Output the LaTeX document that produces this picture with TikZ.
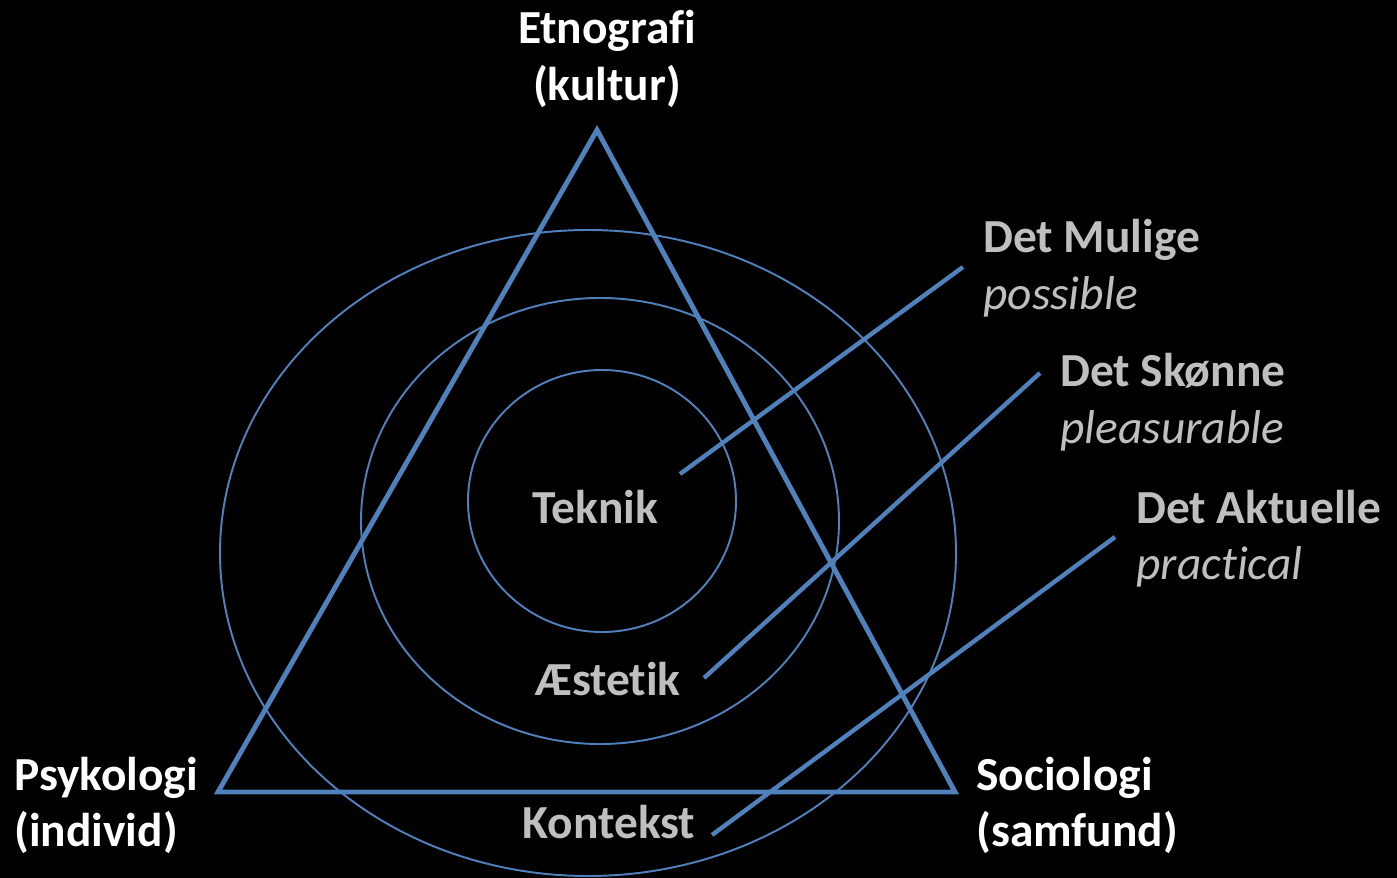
\documentclass[tikz,border=0pt]{standalone}
\usepackage{fontspec}
\setmainfont{Carlito}[Ligatures=NoCommon]
\definecolor{ringblue}{HTML}{4F81BD}
\definecolor{softgray}{HTML}{BFBFBF}

\begin{document}
\begin{tikzpicture}[x=0.02cm,y=-0.02cm,
    head/.style={font=\fontsize{27}{32}\selectfont\bfseries, inner sep=0},
    sub/.style={font=\fontsize{27}{32}\selectfont\itshape, inner sep=0, text=softgray},
    ring/.style={draw=ringblue, line width=1.1pt},
    link/.style={draw=ringblue, line width=2.5pt}]
    \useasboundingbox (0,0) rectangle (1397,878);
    \fill[black] (0,0) rectangle (1397,878);
    % triangle corners
    \coordinate (top) at (597,130);
    \coordinate (left) at (218,792);
    \coordinate (right) at (955,792);
    \draw[ringblue, line width=2.8pt, line join=miter] (top) -- (left) -- (right) -- cycle;
    % the three rings
    \draw[ring] (588,553) ellipse [x radius=368, y radius=323];
    \draw[ring] (600,521) ellipse [x radius=239, y radius=223];
    \draw[ring] (602,501) ellipse [x radius=134, y radius=131];
    % corner labels
    \node[head, text=white, anchor=base] (etno) at (607,44) {Etnografi};
    \node[head, text=white, anchor=base] (kultur) at ([yshift=-1.13cm]etno.base) {(kultur)};
    \node[head, text=white, anchor=base west] (psyk) at (14,790) {Psykologi};
    \node[head, text=white, anchor=base west] (indiv) at ([yshift=-1.13cm]psyk.base west) {(individ)};
    \node[head, text=white, anchor=base west] (soci) at (976,790) {Sociologi};
    \node[head, text=white, anchor=base west] (samf) at ([yshift=-1.13cm]soci.base west) {(samfund)};
    % ring labels
    \node[head, text=softgray, anchor=base] (teknik) at (595,523) {Teknik};
    \node[head, text=softgray, anchor=base] (aestetik) at (608,695) {Æstetik};
    \node[head, text=softgray, anchor=base] (kontekst) at (609,838) {Kontekst};
    % names on the right
    \node[head, text=softgray, anchor=base west] (mulige) at (983,253) {Det Mulige};
    \node[sub, anchor=base west] (possible) at ([yshift=-1.14cm]mulige.base west) {possible};
    \node[head, text=softgray, anchor=base west] (skonne) at (1060,387) {Det Skønne};
    \node[sub, anchor=base west] (pleasure) at ([yshift=-1.14cm]skonne.base west) {pleasurable};
    \node[head, text=softgray, anchor=base west] (aktuelle) at (1136,523) {Det Aktuelle};
    \node[sub, anchor=base west] (practical) at ([yshift=-1.14cm]aktuelle.base west) {practical};
    % pointers from the rings to the names
    \coordinate (p1) at (680,474); \coordinate (q1) at (963,267);
    \coordinate (p2) at (704,678); \coordinate (q2) at (1040,373);
    \coordinate (p3) at (712,835); \coordinate (q3) at (1115,537);
    \draw[link] (p1) -- (q1);
    \draw[link] (p2) -- (q2);
    \draw[link] (p3) -- (q3);
\end{tikzpicture}
\end{document}
